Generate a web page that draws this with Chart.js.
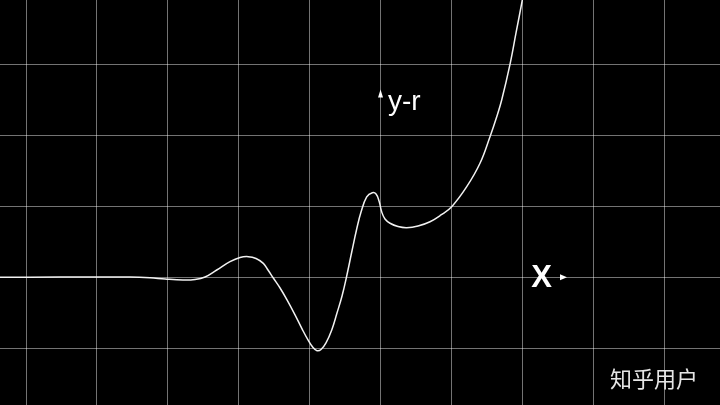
<!DOCTYPE html>
<html>
<head>
<meta charset="utf-8">
<script src="https://cdn.jsdelivr.net/npm/chart.js@4/dist/chart.umd.min.js"></script>
<style>
  html, body { margin: 0; padding: 0; background: #000; }
  #plot { display: block; background: #000; }
</style>
</head>
<body>
<canvas id="plot" width="720" height="405"></canvas>
<script>
// visible window of the plane, in grid units (one grid cell = 1)
const xRange = [-5.367, 4.788];
const yRange = [-1.801, 3.911];

// curve
const xs = [-5.367, -4.520, -3.533, -3.251, -3.039, -2.786, -2.616, -2.475, -2.310, -2.123,
            -1.982, -1.865, -1.756, -1.653, -1.587, -1.512, -1.417, -1.319, -1.206, -1.107,
            -1.023, -0.952, -0.896, -0.839, -0.769, -0.688, -0.614, -0.543, -0.477, -0.406,
            -0.336, -0.275, -0.195, -0.116, -0.063, -0.021, 0.017, 0.063, 0.134, 0.247,
            0.370, 0.529, 0.698, 0.853, 1.004, 1.216, 1.403, 1.544, 1.639, 1.709,
            1.826, 1.911, 2.000, 2.038];
const ys = [0.000, 0.004, 0.004, -0.006, -0.024, -0.038, -0.031, 0.004, 0.103, 0.220,
            0.279, 0.291, 0.265, 0.197, 0.103, -0.010, -0.151, -0.318, -0.529, -0.727,
            -0.883, -0.990, -1.035, -1.018, -0.924, -0.743, -0.504, -0.264, 0.018, 0.357,
            0.681, 0.921, 1.133, 1.193, 1.175, 1.076, 0.921, 0.822, 0.762, 0.716,
            0.700, 0.724, 0.784, 0.879, 0.996, 1.278, 1.608, 1.983, 2.265, 2.501,
            3.004, 3.446, 3.911, 4.123];

const axisLabels = ['y-r', 'X'];
const watermark = '知乎用户';

const points = xs.map((x, i) => ({ x: x, y: ys[i] }));

// arrows + labels on the axes, placed through the scales
const axisDecor = {
    id: 'axisDecor',
    afterDraw(chart) {
        const { ctx, scales } = chart;
        const sx = scales.x, sy = scales.y;
        ctx.save();
        ctx.fillStyle = '#fff';

        // y arrow
        const ax = sx.getPixelForValue(0);
        const ay = sy.getPixelForValue(2.65);
        ctx.beginPath();
        ctx.moveTo(ax, ay);
        ctx.lineTo(ax - 2.5, ay + 8);
        ctx.lineTo(ax + 2.5, ay + 8);
        ctx.closePath();
        ctx.fill();

        ctx.font = '28px "Liberation Sans", Arial, sans-serif';
        ctx.textAlign = 'left';
        ctx.textBaseline = 'alphabetic';
        ctx.fillText(axisLabels[0], sx.getPixelForValue(0.105), sy.getPixelForValue(2.36));

        // x arrow
        const bx = sx.getPixelForValue(2.63);
        const by = sy.getPixelForValue(0);
        ctx.beginPath();
        ctx.moveTo(bx, by);
        ctx.lineTo(bx - 7, by - 3);
        ctx.lineTo(bx - 7, by + 3);
        ctx.closePath();
        ctx.fill();

        ctx.font = 'bold 31px "Liberation Sans", Arial, sans-serif';
        ctx.textAlign = 'center';
        ctx.textBaseline = 'middle';
        ctx.fillText(axisLabels[1], sx.getPixelForValue(2.27), by + 1);

        // watermark
        ctx.fillStyle = '#e6e6e6';
        ctx.font = '22px "Noto Sans CJK SC", sans-serif';
        ctx.textAlign = 'left';
        ctx.textBaseline = 'middle';
        ctx.fillText(watermark, 610, 379);
        ctx.restore();
    }
};

new Chart(document.getElementById('plot'), {
    type: 'line',
    data: {
        datasets: [{
            data: points,
            borderColor: '#f2f2f2',
            borderWidth: 1.5,
            pointRadius: 0,
            tension: 0.4,
            fill: false
        }]
    },
    options: {
        responsive: false,
        animation: false,
        devicePixelRatio: 1,
        layout: { padding: 0 },
        plugins: {
            legend: { display: false },
            tooltip: { enabled: false }
        },
        scales: {
            x: {
                type: 'linear',
                min: xRange[0],
                max: xRange[1],
                ticks: { display: false, stepSize: 1, includeBounds: false },
                grid: { color: 'rgba(255,255,255,0.45)', lineWidth: 1, drawTicks: false },
                border: { display: false }
            },
            y: {
                type: 'linear',
                min: yRange[0],
                max: yRange[1],
                ticks: { display: false, stepSize: 1, includeBounds: false },
                grid: { color: 'rgba(255,255,255,0.45)', lineWidth: 1, drawTicks: false },
                border: { display: false }
            }
        }
    },
    plugins: [axisDecor]
});
</script>
</body>
</html>
